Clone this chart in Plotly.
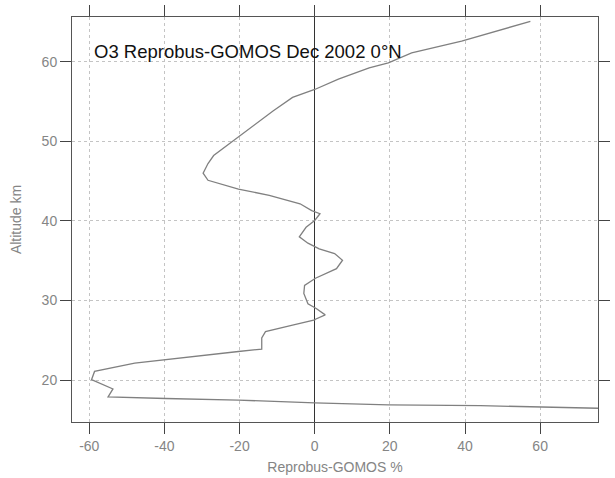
import plotly.graph_objects as go

# Reprobus-GOMOS difference (%) vs altitude (km)
diff_pct = [57.4, 39.1, 25.8, 19.6, 14.5, 6.3, 0.0, -5.9, -11.1, -20.3, -26.9,
            -28.4, -29.7, -28.4, -20.3, -12.1, -3.9, -0.8, 1.4, 0.0, -2.3, -4.1,
            -1.8, 1.2, 5.3, 7.4, 5.8, 0.2, -2.7, -2.9, -1.8, 0.4, 2.8, 0.2,
            0.0, -5.9, -13.1, -14.1, -14.1, -20.3, -39.7, -47.9, -58.6, -59.4,
            -53.7, -55.0, -39.7, -20.3, 0.0, 19.6, 44.1, 59.5, 78.0]
altitude = [65.06, 62.56, 61.1, 59.85, 59.2, 57.8, 56.5, 55.5, 53.8, 50.5, 48.2,
            47.2, 46.0, 45.1, 44.0, 43.2, 42.15, 41.3, 40.9, 40.06, 39.2, 38.0,
            37.2, 36.5, 35.9, 35.06, 34.0, 32.8, 31.9, 30.9, 29.6, 29.0, 28.2, 27.65,
            27.56, 26.9, 26.1, 25.3, 23.9, 23.6, 22.6, 22.15, 21.1, 20.06,
            18.9, 17.9, 17.7, 17.5, 17.15, 16.9, 16.8, 16.6, 16.45]

x_ticks = [-60, -40, -20, 0, 20, 40, 60]
x_tick_labels = ["-60", "-40", "-20", "0", "20", "40", "60"]
y_ticks = [20, 30, 40, 50, 60]

fig = go.Figure()
fig.add_trace(go.Scatter(x=diff_pct, y=altitude, mode="lines",
                         line=dict(color="#808080", width=1.3),
                         showlegend=False, hoverinfo="skip"))

font_axis = dict(family="Liberation Sans, Arial, sans-serif", size=14, color="#858585")

fig.update_layout(
    width=615, height=478,
    margin=dict(l=72, r=5, t=16, b=55),
    paper_bgcolor="white", plot_bgcolor="white",
    font=font_axis,
    xaxis=dict(range=[-64.6, 75.4], tickvals=x_ticks, ticktext=x_tick_labels,
               ticks="outside", ticklen=11,
               tickcolor="#444", tickwidth=1, showline=True, linecolor="#555",
               linewidth=1, mirror="allticks", showgrid=True, gridcolor="#c4c4c4",
               griddash="dot", gridwidth=1, zeroline=True, zerolinecolor="#333",
               zerolinewidth=1, tickfont=font_axis,
               title=dict(text="Reprobus-GOMOS %", font=font_axis, standoff=9)),
    yaxis=dict(range=[14.75, 65.6], tickvals=y_ticks, ticks="outside", ticklen=11,
               tickcolor="#444", tickwidth=1, showline=True, linecolor="#555",
               linewidth=1, mirror="allticks", showgrid=True, gridcolor="#c4c4c4",
               griddash="dot", gridwidth=1, zeroline=False, tickfont=font_axis,
               title=dict(text="Altitude km", font=font_axis, standoff=16)),
    annotations=[dict(text="O3 Reprobus-GOMOS Dec 2002 0°N", xref="paper", yref="paper",
                      x=0.038, y=0.916, xanchor="left", yanchor="middle", showarrow=False,
                      font=dict(family="Liberation Sans, Arial, sans-serif", size=18.5,
                                color="#111"))],
)

fig.write_html("out.html")
